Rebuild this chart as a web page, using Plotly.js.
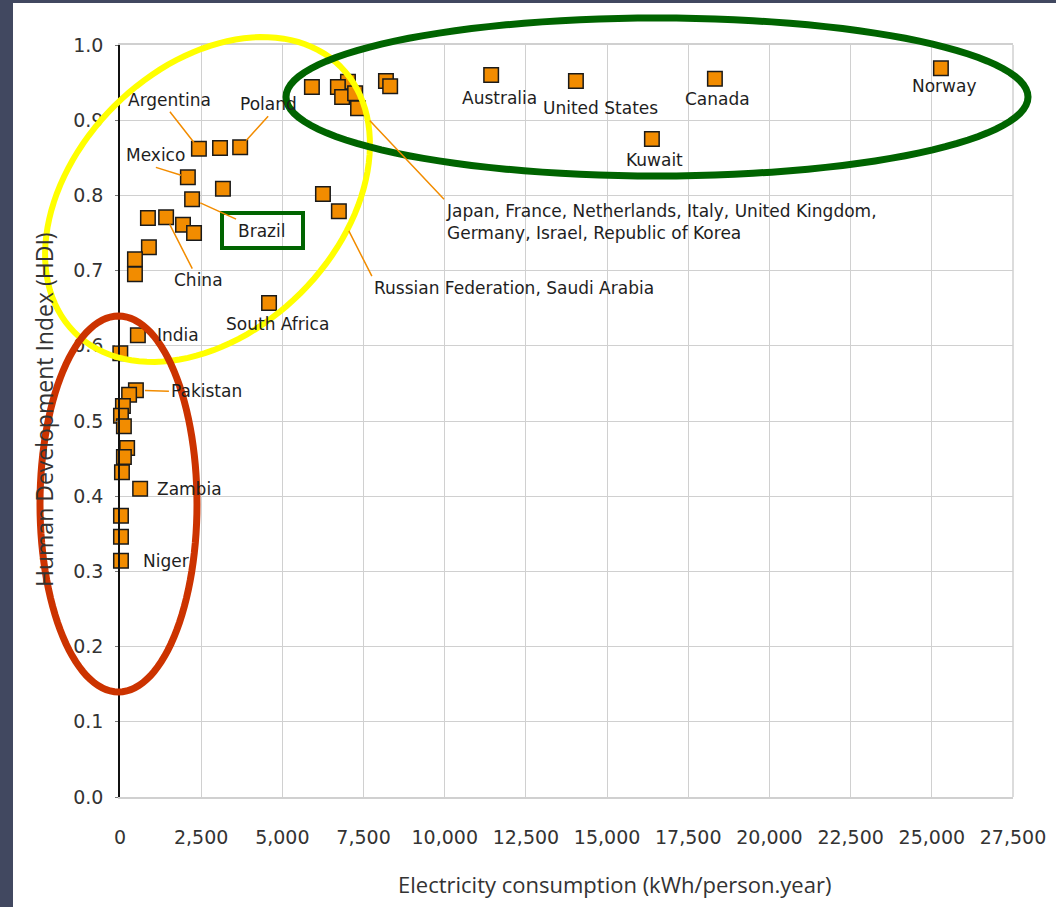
<!DOCTYPE html>
<html>
<head>
<meta charset="utf-8">
<script src="https://cdn.plot.ly/plotly-3.0.1.min.js"></script>
<style>
  html, body { margin: 0; padding: 0; background: #414860; }
  #chart { width: 1056px; height: 907px; }
</style>
</head>
<body>
<div id="chart"></div>
<script>
// electricity use (kWh/person.year) against HDI, one square per country
const elec = [2430, 3080, 3700, 2090, 3170, 2220, 860, 1420, 1940, 2280,
              890, 460, 460, 4590, 6250, 6740, 550,
              5910, 7020, 6710, 6840, 7240, 7330, 8190, 8320,
              11430, 14040, 18320, 16380, 25280,
              10, 490, 280, 90, 30, 120, 220, 120, 60, 620, 30, 30, 30];
const hdi = [0.862, 0.863, 0.864, 0.824, 0.809, 0.795, 0.770, 0.771, 0.761, 0.750,
             0.731, 0.715, 0.695, 0.657, 0.802, 0.779, 0.614,
             0.944, 0.951, 0.944, 0.931, 0.936, 0.916, 0.952, 0.945,
             0.960, 0.952, 0.955, 0.875, 0.969,
             0.590, 0.541, 0.535, 0.520, 0.507, 0.493, 0.464, 0.452, 0.432, 0.410, 0.374, 0.346, 0.314];
const names = ['Argentina', '', 'Poland', 'Mexico', '', 'Brazil', '', 'China', '', '',
               '', '', '', 'South Africa', '', 'Russian Federation, Saudi Arabia', 'India',
               '', '', '', '', '', 'Japan, France, Netherlands, Italy, United Kingdom,<br>Germany, Israel, Republic of Korea', '', '',
               'Australia', 'United States', 'Canada', 'Kuwait', 'Norway',
               '', 'Pakistan', '', '', '', '', '', '', '', 'Zambia', '', '', 'Niger'];

const xTicks = [0, 2500, 5000, 7500, 10000, 12500, 15000, 17500, 20000, 22500, 25000, 27500];
const xTickText = ['0', '2,500', '5,000', '7,500', '10,000', '12,500', '15,000', '17,500', '20,000', '22,500', '25,000', '27,500'];
const yTicks = [0, 0.1, 0.2, 0.3, 0.4, 0.5, 0.6, 0.7, 0.8, 0.9, 1.0];
const yTickText = ['0.0', '0.1', '0.2', '0.3', '0.4', '0.5', '0.6', '0.7', '0.8', '0.9', '1.0'];

// where each label sits, in pixels from its square
const plainLabels = {
  'India':         { xanchor: 'left',   xshift: 17, yshift: 0 },
  'South Africa':  { xanchor: 'center', xshift: 8,  yshift: -21 },
  'Zambia':        { xanchor: 'left',   xshift: 15, yshift: 0 },
  'Niger':         { xanchor: 'left',   xshift: 20, yshift: 0 },
  'Australia':     { xanchor: 'center', xshift: 8,  yshift: -23 },
  'United States': { xanchor: 'center', xshift: 25, yshift: -27 },
  'Canada':        { xanchor: 'center', xshift: 3,  yshift: -20 },
  'Kuwait':        { xanchor: 'center', xshift: 3,  yshift: -21 },
  'Norway':        { xanchor: 'center', xshift: 4,  yshift: -18 }
};
const leaderLabels = {
  'Argentina': { ax: -29, ay: -37, xanchor: 'center', yanchor: 'bottom', standoff: 8 },
  'Poland':    { ax: 28,  ay: -31, xanchor: 'center', yanchor: 'bottom', standoff: 9 },
  'Mexico':    { ax: -32, ay: -10, xanchor: 'center', yanchor: 'bottom', standoff: 7 },
  'Brazil':    { ax: 44,  ay: 20,  xanchor: 'left',   yanchor: 'top',    standoff: 9 },
  'China':     { ax: 32,  ay: 63,  xanchor: 'auto',   yanchor: 'auto',   standoff: 8 },
  'Pakistan':  { ax: 33,  ay: 1,   xanchor: 'left',   yanchor: 'middle', standoff: 9 },
  'Russian Federation, Saudi Arabia': { ax: 33, ay: 65, xanchor: 'left', yanchor: 'top', standoff: 22 }
};
leaderLabels[names[22]] = { ax: 86, ay: 91, xanchor: 'left', yanchor: 'top', standoff: 17 };

const W = 1056, H = 907;
const M = { l: 120, r: 43, t: 45, b: 110 };
const plotW = W - M.l - M.r, plotH = H - M.t - M.b;
// page pixels -> paper fractions, for the hand drawn marks on top
function px(x) { return (x - M.l) / plotW; }
function py(y) { return (H - M.b - y) / plotH; }

function ellipsePath(cx, cy, a, b, deg) {
  const th = deg * Math.PI / 180;
  let d = '';
  for (let k = 0; k <= 120; k++) {
    const t = k / 120 * 2 * Math.PI;
    const x = cx + a * Math.cos(th) * Math.cos(t) - b * Math.sin(th) * Math.sin(t);
    const y = cy - (a * Math.sin(th) * Math.cos(t) + b * Math.cos(th) * Math.sin(t));
    d += (k ? 'L' : 'M') + px(x).toFixed(5) + ',' + py(y).toFixed(5);
  }
  return d + 'Z';
}

const labelFont = { family: 'DejaVu Sans', size: 17, color: '#1e1e1e' };
const orange = '#f28c00';
const grid = '#d0d0d0';

const annotations = [];
names.forEach((n, i) => {
  if (!n) return;
  if (plainLabels[n]) {
    const p = plainLabels[n];
    annotations.push({
      x: elec[i], y: hdi[i], text: n, showarrow: false, font: labelFont,
      xanchor: p.xanchor, yanchor: 'middle', xshift: p.xshift, yshift: p.yshift
    });
  } else if (leaderLabels[n]) {
    const p = leaderLabels[n];
    annotations.push({
      x: elec[i], y: hdi[i], text: n, showarrow: true, arrowhead: 0,
      arrowwidth: 1.5, arrowcolor: orange, standoff: p.standoff,
      ax: p.ax, ay: p.ay, xanchor: p.xanchor, yanchor: p.yanchor,
      align: 'left', font: labelFont
    });
  }
});

annotations.push({
  xref: 'paper', yref: 'paper', x: px(614), y: py(884), showarrow: false,
  text: 'Electricity consumption (kWh/person.year)',
  font: { family: 'Open Sans', size: 22, color: '#333' }, xanchor: 'center', yanchor: 'middle'
});
annotations.push({
  xref: 'paper', yref: 'paper', x: px(44), y: py(410), showarrow: false, textangle: -90,
  text: 'Human Development Index (HDI)',
  font: { family: 'Open Sans', size: 23, color: '#333' }, xanchor: 'center', yanchor: 'middle'
});

const shapes = [
  { type: 'rect', xref: 'paper', yref: 'paper', layer: 'below',
    x0: px(13), x1: px(W + 5), y0: py(H + 5), y1: py(3),
    fillcolor: '#ffffff', line: { width: 0 } },
  // right edge of the grid box
  { type: 'line', xref: 'paper', yref: 'paper', layer: 'below',
    x0: 1, x1: 1, y0: 0, y1: 1, line: { color: grid, width: 1.5 } },
  { type: 'path', xref: 'paper', yref: 'paper', layer: 'above',
    path: ellipsePath(207.5, 199.5, 188, 132, 45), line: { color: '#ffff00', width: 6 } },
  { type: 'path', xref: 'paper', yref: 'paper', layer: 'above',
    path: ellipsePath(657, 97, 371, 79, 0), line: { color: '#006400', width: 7 } },
  { type: 'path', xref: 'paper', yref: 'paper', layer: 'above',
    path: ellipsePath(118.5, 504, 78.5, 188, 0), line: { color: '#cc3300', width: 7 } },
  { type: 'rect', xref: 'paper', yref: 'paper', layer: 'above',
    x0: px(222), x1: px(303), y0: py(248), y1: py(213),
    line: { color: '#006400', width: 4 } }
];

const trace = {
  x: elec, y: hdi, type: 'scatter', mode: 'markers',
  marker: { symbol: 'square', size: 14.5, color: orange, line: { color: '#1a1a1a', width: 1.5 } },
  hoverinfo: 'x+y', cliponaxis: false
};

const layout = {
  width: W, height: H,
  margin: M,
  paper_bgcolor: '#414860',
  plot_bgcolor: 'rgba(0,0,0,0)',
  showlegend: false,
  xaxis: {
    range: [0, 27500], tickvals: xTicks, ticktext: xTickText,
    showgrid: true, gridcolor: grid, gridwidth: 1.2,
    zeroline: false, showline: true, linecolor: grid, linewidth: 1.5, mirror: true,
    ticks: '', ticklabelstandoff: 22,
    tickfont: { family: 'DejaVu Sans', size: 19, color: '#333' }
  },
  yaxis: {
    range: [0, 1], tickvals: yTicks, ticktext: yTickText,
    showgrid: true, gridcolor: grid, gridwidth: 1.2,
    zeroline: false, showline: true, linecolor: '#111', linewidth: 1.5,
    ticks: 'outside', ticklen: 3, tickcolor: '#777',
    ticklabelstandoff: 8,
    tickfont: { family: 'DejaVu Sans', size: 19, color: '#333' }
  },
  annotations: annotations,
  shapes: shapes
};

Plotly.newPlot('chart', [trace], layout, { displayModeBar: false });
</script>
</body>
</html>
